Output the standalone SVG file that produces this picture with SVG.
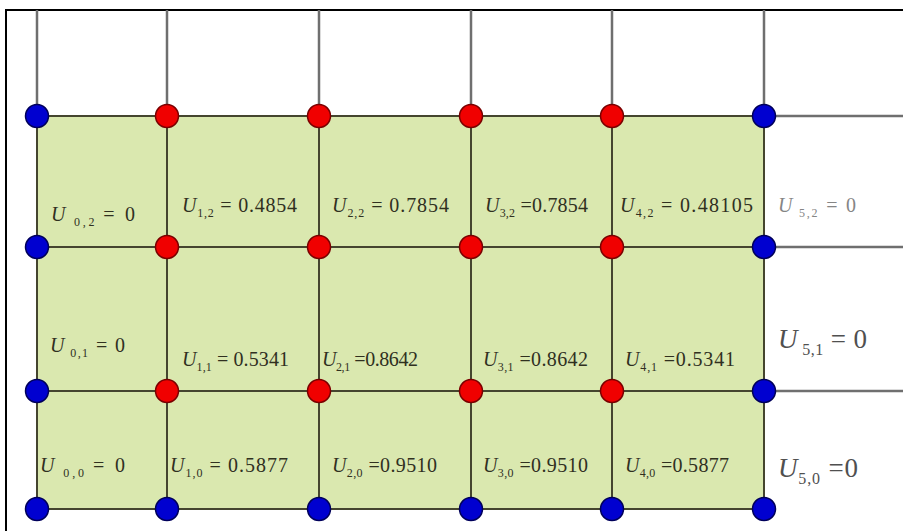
<svg xmlns="http://www.w3.org/2000/svg" width="903" height="531" viewBox="0 0 903 531">
<style>
.frame{stroke:#000;stroke-width:2;fill:none}
.out{stroke:#6f6f6f;stroke-width:2.5;fill:none}
.in{stroke:#45452f;stroke-width:2;fill:none}
.blue{fill:#0000d0;stroke:#00005a;stroke-width:1.5}
.red{fill:#f00000;stroke:#7a0000;stroke-width:1.5}
text{font-family:"Liberation Serif","Times New Roman",serif;font-size:20px;fill:#30301f}
.u{font-style:italic}
.s{font-size:12px}
.big{font-size:27px;fill:#505050}
.big .s{font-size:16px}
.light{fill:#858585}
</style>
<rect x="0" y="0" width="903" height="531" fill="#fff"/>
<path class="frame" d="M6,531 V10 H903"/>
<rect x="37" y="116" width="727" height="393" fill="#dae8af"/>
<g id="connectors">
<path class="out" d="M37,10V116 M167,10V116 M319,10V116 M471,10V116 M612,10V116 M764,10V116 M764,116H903 M764,247H903 M764,391H903"/>
<path class="in" d="M37,116H764 M37,247H764 M37,391H764 M37,509H764 M37,116V509 M167,116V509 M319,116V509 M471,116V509 M612,116V509 M764,116V509"/>
</g>
<g id="n-0-3"><circle class="blue" cx="37" cy="116" r="11.5"/></g>
<g id="n-1-3"><circle class="red" cx="167" cy="116" r="11.5"/></g>
<g id="n-2-3"><circle class="red" cx="319" cy="116" r="11.5"/></g>
<g id="n-3-3"><circle class="red" cx="471" cy="116" r="11.5"/></g>
<g id="n-4-3"><circle class="red" cx="612" cy="116" r="11.5"/></g>
<g id="n-5-3"><circle class="blue" cx="764" cy="116" r="11.5"/></g>
<g id="n-0-2"><circle class="blue" cx="37" cy="247" r="11.5"/><text x="51" y="221" textLength="84"><tspan class="u">U</tspan><tspan class="s" dy="5"> 0,2 </tspan><tspan dy="-5"> = 0</tspan></text></g>
<g id="n-1-2"><circle class="red" cx="167" cy="247" r="11.5"/><text x="182" y="212" textLength="115"><tspan class="u">U</tspan><tspan class="s" dy="5">1,2</tspan><tspan dy="-5"> = 0.4854</tspan></text></g>
<g id="n-2-2"><circle class="red" cx="319" cy="247" r="11.5"/><text x="332" y="212" textLength="117"><tspan class="u">U</tspan><tspan class="s" dy="5">2,2</tspan><tspan dy="-5"> = 0.7854</tspan></text></g>
<g id="n-3-2"><circle class="red" cx="471" cy="247" r="11.5"/><text x="485" y="212" textLength="103"><tspan class="u">U</tspan><tspan class="s" dy="5">3,2</tspan><tspan dy="-5"> =0.7854</tspan></text></g>
<g id="n-4-2"><circle class="red" cx="612" cy="247" r="11.5"/><text x="620" y="212" textLength="133"><tspan class="u">U</tspan><tspan class="s" dy="5">4,2</tspan><tspan dy="-5"> = 0.48105</tspan></text></g>
<g id="n-5-2"><circle class="blue" cx="764" cy="247" r="11.5"/><text class="light" x="778" y="212" textLength="78"><tspan class="u">U</tspan><tspan class="s" dy="5"> 5,2</tspan><tspan dy="-5"> = 0</tspan></text></g>
<g id="n-0-1"><circle class="blue" cx="37" cy="391" r="11.5"/><text x="50" y="352" textLength="75"><tspan class="u">U</tspan><tspan class="s" dy="5"> 0,1</tspan><tspan dy="-5"> = 0</tspan></text></g>
<g id="n-1-1"><circle class="red" cx="167" cy="391" r="11.5"/><text x="182" y="366" textLength="107"><tspan class="u">U</tspan><tspan class="s" dy="5">1,1</tspan><tspan dy="-5"> = 0.5341</tspan></text></g>
<g id="n-2-1"><circle class="red" cx="319" cy="391" r="11.5"/><text x="322" y="366" textLength="96"><tspan class="u">U</tspan><tspan class="s" dy="5">2,1</tspan><tspan dy="-5"> =0.8642</tspan></text></g>
<g id="n-3-1"><circle class="red" cx="471" cy="391" r="11.5"/><text x="483" y="366" textLength="105"><tspan class="u">U</tspan><tspan class="s" dy="5">3,1</tspan><tspan dy="-5"> =0.8642</tspan></text></g>
<g id="n-4-1"><circle class="red" cx="612" cy="391" r="11.5"/><text x="625" y="366" textLength="110"><tspan class="u">U</tspan><tspan class="s" dy="5">4,1</tspan><tspan dy="-5"> =0.5341</tspan></text></g>
<g id="n-5-1"><circle class="blue" cx="764" cy="391" r="11.5"/><text class="big" x="778" y="348" textLength="89"><tspan class="u">U</tspan><tspan class="s" dy="7"> 5,1</tspan><tspan dy="-7"> = 0</tspan></text></g>
<g id="n-0-0"><circle class="blue" cx="37" cy="509" r="11.5"/><text x="40" y="472" textLength="85"><tspan class="u">U</tspan><tspan class="s" dy="5"> 0,0 </tspan><tspan dy="-5"> = 0</tspan></text></g>
<g id="n-1-0"><circle class="blue" cx="167" cy="509" r="11.5"/><text x="170" y="472" textLength="118"><tspan class="u">U</tspan><tspan class="s" dy="5">1,0</tspan><tspan dy="-5"> = 0.5877</tspan></text></g>
<g id="n-2-0"><circle class="blue" cx="319" cy="509" r="11.5"/><text x="332" y="472" textLength="105"><tspan class="u">U</tspan><tspan class="s" dy="5">2,0</tspan><tspan dy="-5"> =0.9510</tspan></text></g>
<g id="n-3-0"><circle class="blue" cx="471" cy="509" r="11.5"/><text x="483" y="472" textLength="105"><tspan class="u">U</tspan><tspan class="s" dy="5">3,0</tspan><tspan dy="-5"> =0.9510</tspan></text></g>
<g id="n-4-0"><circle class="blue" cx="612" cy="509" r="11.5"/><text x="625" y="472" textLength="104"><tspan class="u">U</tspan><tspan class="s" dy="5">4,0</tspan><tspan dy="-5"> =0.5877</tspan></text></g>
<g id="n-5-0"><circle class="blue" cx="764" cy="509" r="11.5"/><text class="big" x="778" y="477" textLength="80"><tspan class="u">U</tspan><tspan class="s" dy="7">5,0</tspan><tspan dy="-7"> =0</tspan></text></g>
</svg>
